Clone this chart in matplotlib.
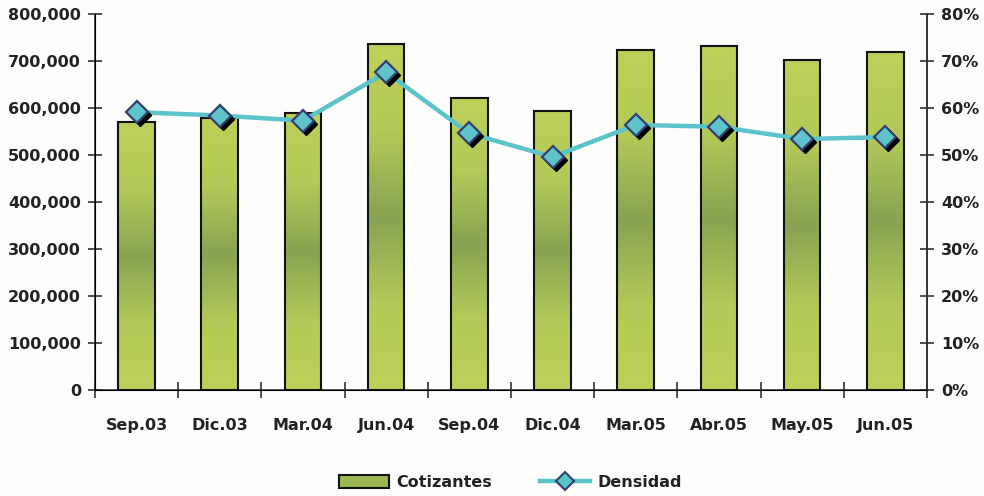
import matplotlib.pyplot as plt
import numpy as np
from matplotlib.colors import LinearSegmentedColormap
from matplotlib.transforms import offset_copy
from matplotlib.ticker import FuncFormatter, FixedLocator
from matplotlib.lines import Line2D
from matplotlib.patches import Patch

# Data
periods = ['Sep.03', 'Dic.03', 'Mar.04', 'Jun.04', 'Sep.04',
           'Dic.04', 'Mar.05', 'Abr.05', 'May.05', 'Jun.05']
cotizantes = [570000, 579000, 589000, 736000, 621000,
              594000, 723000, 732000, 703000, 720000]
densidad = [59.1, 58.4, 57.3, 67.6, 54.6, 49.6, 56.4, 56.0, 53.4, 53.8]

plt.rcParams['font.family'] = ['DejaVu Sans']
plt.rcParams['font.weight'] = 'bold'
txt = '#222222'

fig = plt.figure(figsize=(9.84, 4.96), dpi=100)
fig.patch.set_facecolor('#fdfdfb')
ax = fig.add_axes([0.0965, 0.2137, 0.8455, 0.7581])
ax.set_facecolor('#fdfdfb')

x = np.arange(len(periods))
bars = ax.bar(x, cotizantes, width=0.44, color='none', edgecolor='#111111',
              linewidth=1.5, zorder=3)

# vertical gradient per bar: light - dark - light
cmap = LinearSegmentedColormap.from_list('g', ['#bdd05a', '#b3ca58', '#88a352', '#b3ca58', '#bdd05a'])
grad = np.linspace(0, 1, 256).reshape(-1, 1)
for b in bars:
    x0, y0 = b.get_x(), b.get_y()
    im = ax.imshow(grad, cmap=cmap, aspect='auto', origin='lower',
                   extent=(x0, x0 + b.get_width(), y0, y0 + b.get_height()),
                   zorder=2)
    im.set_clip_path(b)

ax.set_xlim(-0.5, len(periods) - 0.5)
ax.set_ylim(0, 800000)
ax.yaxis.set_major_locator(FixedLocator(np.arange(0, 800001, 100000)))
ax.yaxis.set_major_formatter(FuncFormatter(lambda v, p: f'{int(v):,}'))
ax.set_xticks(x)
ax.set_xticklabels(periods)
ax.xaxis.set_minor_locator(FixedLocator(np.arange(-0.5, len(periods), 1.0)))
ax.tick_params(axis='x', which='major', length=0, pad=20, labelsize=11.5, labelcolor=txt)
ax.tick_params(axis='x', which='minor', direction='inout', length=12, width=1.2, color='#333333')
ax.tick_params(axis='y', direction='inout', length=10, width=1.2, color='#333333',
               labelsize=11.5, labelcolor=txt, pad=5)
ax.spines['top'].set_visible(False)
for s in ['left', 'bottom', 'right']:
    ax.spines[s].set_color('#333333')
    ax.spines[s].set_linewidth(1.2)

ax2 = ax.twinx()
ax2.set_ylim(0, 80)
ax2.yaxis.set_major_locator(FixedLocator(np.arange(0, 81, 10)))
ax2.yaxis.set_major_formatter(FuncFormatter(lambda v, p: f'{int(v)}%'))
ax2.tick_params(axis='y', direction='inout', length=10, width=1.2, color='#333333',
                labelsize=11.5, labelcolor=txt, pad=5)
ax2.spines['top'].set_visible(False)
ax2.spines['right'].set_color('#333333')
ax2.spines['right'].set_linewidth(1.2)

ax2.plot(x, densidad, color='#5cc3cb', linewidth=3.2, zorder=3)
shadow = offset_copy(ax2.transData, fig=fig, x=3, y=-3, units='dots')
ax2.plot(x, densidad, linestyle='none', marker='D', markersize=11,
         color='black', transform=shadow, zorder=4)
ax2.plot(x, densidad, linestyle='none', marker='D', markersize=11,
         markerfacecolor='#5fc3cc', markeredgecolor='#34406e',
         markeredgewidth=1.6, zorder=5)

handles = [Patch(facecolor='#9bb852', edgecolor='#111111', linewidth=1.5),
           Line2D([], [], color='#5cc3cb', linewidth=3.2, marker='D', markersize=9,
                  markerfacecolor='#5fc3cc', markeredgecolor='#34406e', markeredgewidth=1.5)]
fig.legend(handles, ['Cotizantes', 'Densidad'], loc='center', bbox_to_anchor=(0.519, 0.028),
           ncol=2, frameon=False, fontsize=11.5, handlelength=3.1, handleheight=0.9,
           columnspacing=3.0, handletextpad=0.5, labelcolor=txt)

fig.savefig('out.png', dpi=100, facecolor=fig.get_facecolor())
